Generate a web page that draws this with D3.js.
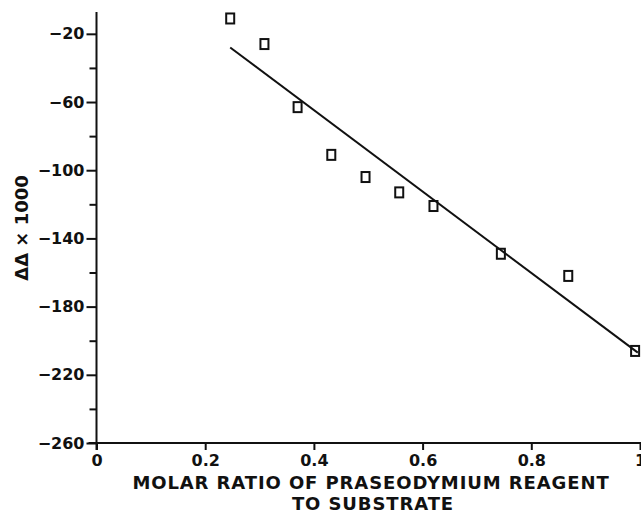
<!DOCTYPE html>
<html>
<head>
<meta charset="utf-8">
<script src="https://cdn.jsdelivr.net/npm/d3@7"></script>
<style>
  body { margin: 0; background: #fff; }
  text { font-family: "DejaVu Sans", sans-serif; font-weight: bold; fill: #111; }
</style>
</head>
<body>
<div class="chart"></div>
<script>
var svgWidth = 641;
var svgHeight = 515;

// data
var ratio = [0.246, 0.309, 0.370, 0.432, 0.495, 0.557, 0.620, 0.744, 0.868, 0.991];
var shift = [-11, -26, -63, -91, -104, -113, -121, -149, -162, -206];
var fitX = [0.246, 0.996];
var fitY = [-28, -207];

var xTicks = [0, 0.2, 0.4, 0.6, 0.8, 1];
var yTicks = [-20, -60, -100, -140, -180, -220, -260];
var yMinor = [-40, -80, -120, -160, -200, -240];

var svg = d3.select(".chart")
  .append("svg")
  .attr("width", svgWidth)
  .attr("height", svgHeight);

var xScale = d3.scaleLinear().domain([0, 1]).range([96.5, 640]);
var yScale = d3.scaleLinear().domain([-260, -7.2]).range([443, 12]);

var fmtX = d => (d === 0 || d === 1) ? String(d) : d.toFixed(1);
var fmtY = d => "\u2212" + Math.abs(d);

// x axis
var xAxis = svg.append("g")
  .attr("transform", `translate(0, ${yScale(-260)})`)
  .call(d3.axisBottom(xScale).tickValues(xTicks).tickFormat(fmtX).tickSize(7).tickSizeOuter(0).tickPadding(5));
xAxis.select(".domain").attr("d", `M${xScale(0) - 8},0H${svgWidth}`);

// y axis minor ticks
svg.append("g")
  .attr("transform", `translate(${xScale(0)}, 0)`)
  .call(d3.axisLeft(yScale).tickValues(yMinor).tickFormat("").tickSize(7).tickSizeOuter(0))
  .select(".domain").remove();

// y axis major
var yAxis = svg.append("g")
  .attr("transform", `translate(${xScale(0)}, 0)`)
  .call(d3.axisLeft(yScale).tickValues(yTicks).tickFormat(fmtY).tickSize(10).tickSizeOuter(0).tickPadding(2));
yAxis.select(".domain").attr("d", `M0,${yScale.range()[1]}V${yScale(-260) + 7}`);

svg.selectAll(".domain, .tick line").attr("stroke", "#111").attr("stroke-width", 2);
svg.selectAll(".tick text").style("font-size", "16px").attr("fill", "#111");

// fitted line
svg.append("path")
  .datum(d3.zip(fitX, fitY))
  .attr("d", d3.line().x(d => xScale(d[0])).y(d => yScale(d[1])))
  .attr("fill", "none")
  .attr("stroke", "#111")
  .attr("stroke-width", 2);

// squares
svg.selectAll("rect.pt")
  .data(d3.zip(ratio, shift))
  .enter()
  .append("rect")
  .attr("class", "pt")
  .attr("x", d => xScale(d[0]) - 4)
  .attr("y", d => yScale(d[1]) - 5)
  .attr("width", 8)
  .attr("height", 10)
  .attr("fill", "none")
  .attr("stroke", "#111")
  .attr("stroke-width", 2);

// axis titles
svg.append("text")
  .attr("transform", `translate(28, 228) rotate(-90)`)
  .attr("text-anchor", "middle")
  .style("font-size", "18px")
  .text("\u0394\u0394 \u00d7 1000");

svg.append("text")
  .attr("x", 371)
  .attr("y", 489)
  .attr("text-anchor", "middle")
  .style("font-size", "18px")
  .style("letter-spacing", "0.9px")
  .text("MOLAR RATIO OF PRASEODYMIUM REAGENT");

svg.append("text")
  .attr("x", 373)
  .attr("y", 510)
  .attr("text-anchor", "middle")
  .style("font-size", "18px")
  .style("letter-spacing", "0.9px")
  .text("TO SUBSTRATE");
</script>
</body>
</html>
